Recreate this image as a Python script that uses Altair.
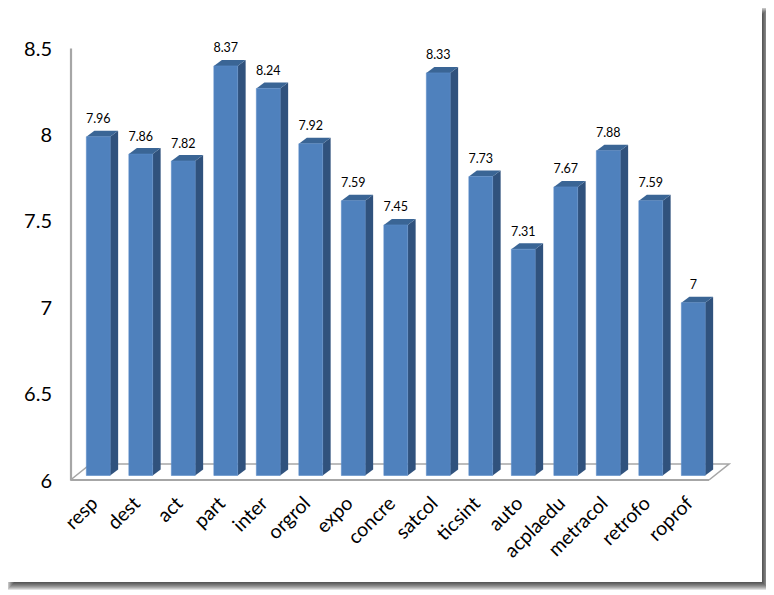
import altair as alt
import pandas as pd

categories = ["resp", "dest", "act", "part", "inter", "orgrol", "expo", "concre",
              "satcol", "ticsint", "auto", "acplaedu", "metracol", "retrofo", "roprof"]
values = [7.96, 7.86, 7.82, 8.37, 8.24, 7.92, 7.59, 7.45, 8.33, 7.73, 7.31, 7.67, 7.88, 7.59, 7.0]
y_ticks = [6, 6.5, 7, 7.5, 8, 8.5]

FONT = "Lato"
PLOT_W, PLOT_H = 659.5, 432
SVG_W, SVG_H = 758, 587
LEFT, TOP = 62.5, 40
STEP = 42.5
X0 = -27.75 / STEP
PX_X = 1 / STEP
PX_Y = 2.5 / PLOT_H

half = 11.9 * PX_X
lift = 4.5 * PX_Y
dx = 8 * PX_X
dy = 6 * PX_Y

x_scale = alt.Scale(domain=[X0, X0 + PLOT_W * PX_X], nice=False, zero=False)
y_scale = alt.Scale(domain=[6, 8.5], nice=False, zero=False)

front_rows, side_rows, top_rows = [], [], []
for i, (c, v) in enumerate(zip(categories, values)):
    l, r = i - half, i + half
    t, b = v + lift, 6 + lift
    front_rows.append(dict(cat=c, i=i, l=l, r=r, t=t, b=b, v=v))
    side_rows += [dict(i=i, x=r, y=t, y2=b), dict(i=i, x=r + dx, y=t + dy, y2=b + dy)]
    top_rows += [dict(i=i, x=l, y=t, y2=t), dict(i=i, x=l + dx, y=t + dy, y2=t),
                 dict(i=i, x=r, y=t + dy, y2=t), dict(i=i, x=r + dx, y=t + dy, y2=t + dy)]
front = pd.DataFrame(front_rows)
side = pd.DataFrame(side_rows)
top = pd.DataFrame(top_rows)

floor_dx, floor_dy = 20 * PX_X, 16 * PX_Y
floor_l, floor_r = X0, X0 + 638.5 * PX_X
floor_front = pd.DataFrame({"x": [floor_l, floor_r], "y": [6, 6], "o": [0, 1]})
floor_rest = pd.DataFrame({
    "x": [floor_l, floor_l + floor_dx, floor_r + floor_dx, floor_r],
    "y": [6, 6 + floor_dy, 6 + floor_dy, 6],
    "o": [0, 1, 2, 3]})

label_expr = "[" + ",".join(f"'{c}'" for c in categories) + "][datum.value]"
x_axis = alt.Axis(values=list(range(len(categories))), labelExpr=label_expr, labelAngle=-45,
                  labelAlign="right", labelBaseline="middle", labelPadding=20, labelOffset=-4,
                  labelFont=FONT, labelFontSize=19.5, labelColor="#000000", ticks=False,
                  domain=False, grid=False, title=None, labelBound=False, labelFlush=False,
                  labelOverlap=False, zindex=1)
y_axis = alt.Axis(values=y_ticks, format="~g", labelFont=FONT, labelFontSize=20, labelColor="#000000",
                  labelPadding=19, ticks=False, domain=True, domainColor="#a6a6a6", domainWidth=2.2,
                  grid=False, title=None, labelBound=False, labelFlush=False, labelOverlap=False,
                  labelOffset=1, zindex=1)

def X(f):
    return alt.X(f, type="quantitative", scale=x_scale, axis=x_axis, title=None)
def Y(f):
    return alt.Y(f, type="quantitative", scale=y_scale, axis=y_axis, title=None, stack=None)

dummy = pd.DataFrame({"k": [0]})
layers = []
# drop shadow and panel
for k in range(8):
    layers.append(alt.Chart(dummy).mark_rect(color="black", opacity=0.12).encode(
        x=alt.value(7 + k - 8 - LEFT), x2=alt.value(770 - k - 8 - LEFT),
        y=alt.value(7 + k - 8 - TOP), y2=alt.value(590 - k - 8 - TOP)))
layers.append(alt.Chart(dummy).mark_rect(color="white").encode(
    x=alt.value(4 - 8 - LEFT), x2=alt.value(762 - 8 - LEFT),
    y=alt.value(4 - 8 - TOP), y2=alt.value(582 - 8 - TOP)))

layers.append(alt.Chart(floor_rest).mark_line(color="#a6a6a6", strokeWidth=1.6).encode(
    x=X("x"), y=Y("y"), order="o:Q"))
layers.append(alt.Chart(floor_front).mark_line(color="#a6a6a6", strokeWidth=2.2).encode(
    x=X("x"), y=Y("y"), order="o:Q"))
layers.append(alt.Chart(side).mark_area(color="#30527d", opacity=1).encode(
    x=X("x"), y=Y("y"), y2="y2", detail="i:N"))
layers.append(alt.Chart(top).mark_area(color="#3a6595", opacity=1).encode(
    x=X("x"), y=Y("y"), y2="y2", detail="i:N"))
layers.append(alt.Chart(front).mark_rect(color="#4f81bd", stroke="#5a8cc8", strokeWidth=0.6).encode(
    x=X("l"), x2="r:Q", y=Y("t"), y2="b:Q"))
layers.append(alt.Chart(front).mark_text(font=FONT, fontSize=12.5, color="#000000", dy=-22).encode(
    x=X("i"), y=Y("v"), text=alt.Text("v:Q", format="~g")))

chart = alt.layer(*layers).properties(
    width=PLOT_W, height=PLOT_H,
    padding={"left": LEFT, "top": TOP, "right": SVG_W - LEFT - PLOT_W, "bottom": SVG_H - TOP - PLOT_H},
    autosize=alt.AutoSizeParams(type="none"), background="white"
).configure_view(stroke=None)

chart.save("out.html", embed_options={"renderer": "svg", "actions": False})
